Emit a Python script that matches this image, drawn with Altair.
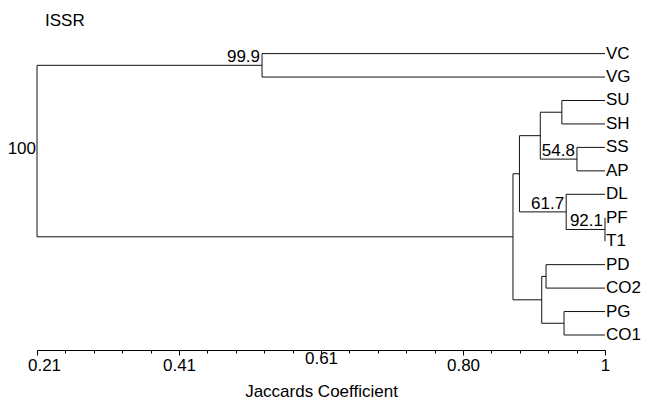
import altair as alt
import pandas as pd

# ---- data -----------------------------------------------------------
leaves = ["VC", "VG", "SU", "SH", "SS", "AP", "DL", "PF", "T1", "PD", "CO2", "PG", "CO1"]

node_ids = ["n1", "n2", "n3", "n4", "n5", "n6", "n7", "n8", "n9", "n10", "n11", "root"]
node_left = ["VC", "SU", "SS", "n2", "PF", "DL", "n4", "PD", "PG", "n8", "n7", "n1"]
node_right = ["VG", "SH", "AP", "n3", "T1", "n5", "n6", "CO2", "CO1", "n9", "n10", "n11"]
node_sim = [0.523, 0.940, 0.961, 0.910, 1.0, 0.946, 0.881, 0.918, 0.943, 0.912, 0.872, 0.21]
node_support = ["99.9", "", "54.8", "", "92.1", "61.7", "", "", "", "", "", "100"]

major_ticks = [0.21, 0.4075, 0.605, 0.8025, 1.0]
major_labels = ["0.21", "0.41", "0.61", "0.80", "1"]
minor_per_major = 5

# ---- build tree geometry from the merge table ----------------------
pos = {name: (1.0, float(i)) for i, name in enumerate(leaves)}  # (x, y)
segs = []
sup_rows = []
for nid, l, r, h, s in zip(node_ids, node_left, node_right, node_sim, node_support):
    lx, ly = pos[l]
    rx, ry = pos[r]
    y = (ly + ry) / 2
    segs.append({"x": h, "x2": h, "y": ly, "y2": ry})
    segs.append({"x": h, "x2": lx, "y": ly, "y2": ly})
    segs.append({"x": h, "x2": rx, "y": ry, "y2": ry})
    pos[nid] = (h, y)
    if s:
        sup_rows.append({"x": h, "y": y, "label": s, "kind": "root" if nid == "root" else "node"})

seg_df = pd.DataFrame(segs)
sup_df = pd.DataFrame(sup_rows)
leaf_df = pd.DataFrame({"x": [1.0] * len(leaves), "y": list(range(len(leaves))), "label": leaves})

# axis ticks: 4 minor intervals between majors
tick_values = []
for a, b in zip(major_ticks[:-1], major_ticks[1:]):
    for k in range(minor_per_major):
        tick_values.append(round(a + (b - a) * k / minor_per_major, 5))
tick_values.append(major_ticks[-1])

label_expr = ""
for v, t in zip(major_ticks, major_labels):
    label_expr += f"abs(datum.value-{v})<0.0005 ? '{t}' : "
label_expr += "''"
major_test = " || ".join(f"abs(datum.value-{v})<0.0005" for v in major_ticks)

FONT = "Liberation Sans"
FS = 17

x_scale = alt.Scale(domain=[0.21, 1.0], nice=False, zero=False)
y_scale = alt.Scale(domain=[-0.58, 12.64], reverse=True, nice=False, zero=False)

x_axis = alt.Axis(
    values=tick_values,
    labelExpr=label_expr,
    grid=False,
    domainColor="black",
    tickColor="black",
    tickSize={"condition": {"test": major_test, "value": 5}, "value": 3},
    labelFont=FONT,
    labelFontSize=FS,
    labelColor="black",
    labelPadding={"condition": {"test": "abs(datum.value-0.605)<0.0005", "value": -5}, "value": 2},
    labelOffset={"condition": {"test": "abs(datum.value-0.21)<0.0005", "value": 7}, "value": 0},
    labelFlush=False,
    labelOverlap=False,
    titleFont=FONT,
    titleFontSize=FS,
    titleFontWeight="normal",
    titleColor="black",
    titlePadding=10,
)

x_enc = alt.X("x:Q", scale=x_scale, axis=x_axis, title="Jaccards Coefficient")
y_enc = alt.Y("y:Q", scale=y_scale, axis=None)

rules = alt.Chart(seg_df).mark_rule(color="#111111", strokeWidth=1).encode(
    x=x_enc, x2="x2:Q", y=y_enc, y2="y2:Q"
)

leaf_text = alt.Chart(leaf_df).mark_text(
    align="left", baseline="middle", dx=1, font=FONT, fontSize=FS, color="black"
).encode(x=x_enc, y=y_enc, text="label:N")

node_text = alt.Chart(sup_df).transform_filter("datum.kind == 'node'").mark_text(
    align="right", baseline="bottom", dx=-2, dy=1, font=FONT, fontSize=FS, color="black"
).encode(x=x_enc, y=y_enc, text="label:N")

root_text = alt.Chart(sup_df).transform_filter("datum.kind == 'root'").mark_text(
    align="right", baseline="middle", dx=-1, dy=-2, font=FONT, fontSize=FS, color="black"
).encode(x=x_enc, y=y_enc, text="label:N")

chart = alt.layer(rules, leaf_text, node_text, root_text).properties(
    width=568,
    height=310,
    padding={"left": 29, "top": 32, "right": 36, "bottom": 51},
    autosize=alt.AutoSizeParams(type="none"),
    title=alt.TitleParams(
        "ISSR", anchor="start", frame="group", dx=8, offset=10,
        font=FONT, fontSize=FS, fontWeight="normal", color="black"
    ),
    background="white",
).configure_view(stroke=None)

chart.save("out.html", embed_options={"renderer": "svg", "actions": False})
